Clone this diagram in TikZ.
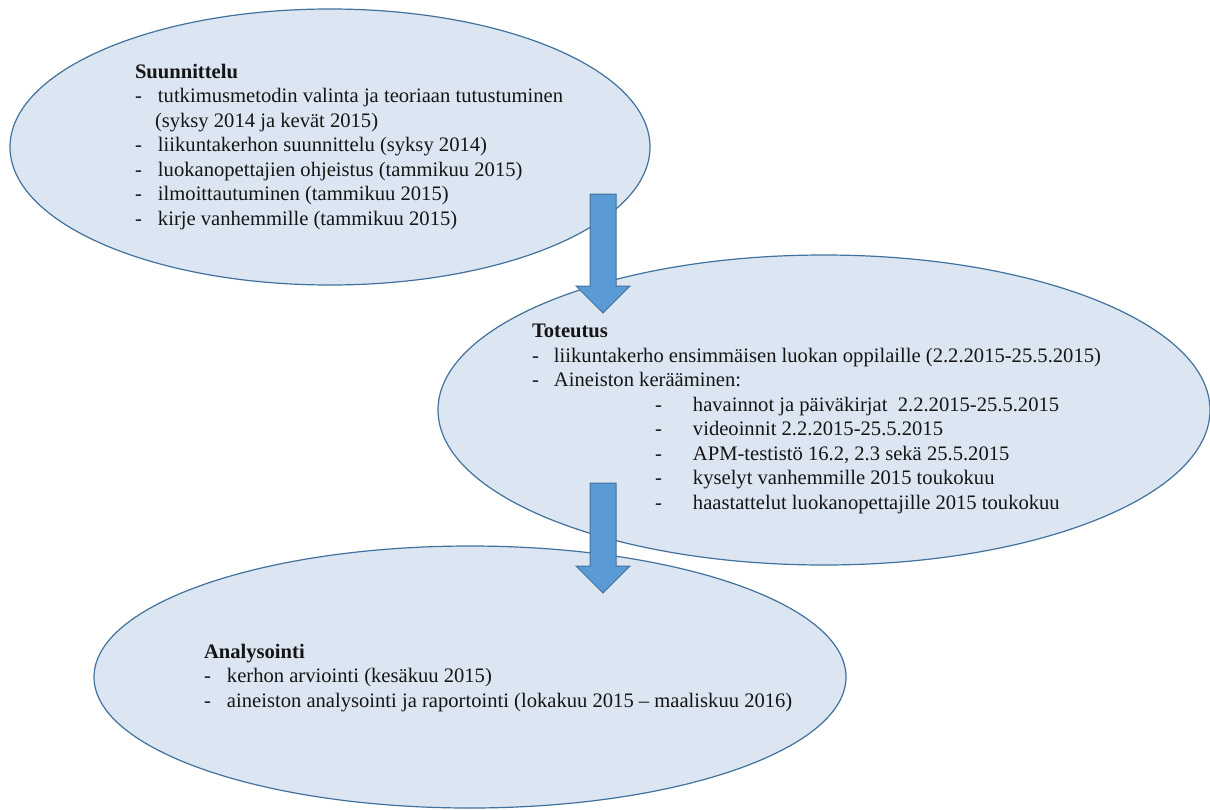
\documentclass[tikz,border=0pt]{standalone}
\usepackage{fontspec}
\setmainfont{Liberation Serif}
\usetikzlibrary{shapes.geometric}
\definecolor{ellfill}{HTML}{DCE6F2}
\definecolor{ellline}{HTML}{41719C}
\definecolor{arrfill}{HTML}{5B9BD5}
\definecolor{txt}{HTML}{151515}
\tikzset{
  phase/.style={ellipse, draw=ellline, fill=ellfill, line width=1.2pt, inner sep=0pt, outer sep=0pt},
  blockarrow/.style={draw=ellline, fill=arrfill, line width=1pt, line join=miter},
  ln/.style={anchor=base west, inner sep=0pt, outer sep=0pt, text=txt, font=\fontsize{20.6}{24.5}\selectfont},
}
\newcommand{\itm}[1]{\makebox[23pt][l]{-}#1}
\newcommand{\subitm}[1]{\makebox[38pt][l]{-}#1}
\begin{document}
\begin{tikzpicture}[x=1pt,y=-1pt]
\useasboundingbox (0,0) rectangle (1210,809);
% ellipses
\node[phase, minimum width=640pt, minimum height=276pt] (plan) at (330,147) {};
\node[phase, minimum width=772pt, minimum height=310pt] (impl) at (824,410) {};
\node[phase, minimum width=752pt, minimum height=262pt] (anal) at (470,677) {};
% block arrows
\coordinate (a1top) at (603,194);
\coordinate (a1tip) at (603,313);
\draw[blockarrow] (590,194) -- (616,194) -- (616,286) -- (630,286) -- (a1tip) -- (576,286) -- (590,286) -- cycle;
\coordinate (a2top) at (603,483);
\coordinate (a2tip) at (603,593);
\draw[blockarrow] (590,483) -- (616,483) -- (616,566) -- (630,566) -- (a2tip) -- (576,566) -- (590,566) -- cycle;
% text: Suunnittelu
\node[ln] (p0) at (135,78) {\textbf{Suunnittelu}};
\node[ln] (p1) at (135,102.5) {\itm{tutkimusmetodin valinta ja teoriaan tutustuminen}};
\node[ln] (p2) at (155,127) {(syksy 2014 ja kevät 2015)};
\node[ln] (p3) at (135,151.5) {\itm{liikuntakerhon suunnittelu (syksy 2014)}};
\node[ln] (p4) at (135,176) {\itm{luokanopettajien ohjeistus (tammikuu 2015)}};
\node[ln] (p5) at (135,200.5) {\itm{ilmoittautuminen (tammikuu 2015)}};
\node[ln] (p6) at (135,225) {\itm{kirje vanhemmille (tammikuu 2015)}};
% text: Toteutus
\node[ln] (t0) at (532,337.5) {\textbf{Toteutus}};
\node[ln] (t1) at (532,362) {\makebox[22pt][l]{-}liikuntakerho ensimmäisen luokan oppilaille (2.2.2015-25.5.2015)};
\node[ln] (t2) at (532,386.5) {\makebox[22pt][l]{-}Aineiston kerääminen:};
\node[ln] (t3) at (655,411) {\subitm{havainnot ja päiväkirjat\ \ 2.2.2015-25.5.2015}};
\node[ln] (t4) at (655,435.5) {\subitm{videoinnit 2.2.2015-25.5.2015}};
\node[ln] (t5) at (655,460) {\subitm{APM-testistö 16.2, 2.3 sekä 25.5.2015}};
\node[ln] (t6) at (655,484.5) {\subitm{kyselyt vanhemmille 2015 toukokuu}};
\node[ln] (t7) at (655,509) {\subitm{haastattelut luokanopettajille 2015 toukokuu}};
% text: Analysointi
\node[ln] (n0) at (204,658) {\textbf{Analysointi}};
\node[ln] (n1) at (204,682.5) {\makebox[23pt][l]{-}kerhon arviointi (kesäkuu 2015)};
\node[ln] (n2) at (204,707) {\makebox[23pt][l]{-}aineiston analysointi ja raportointi (lokakuu 2015 – maaliskuu 2016)};
\end{tikzpicture}
\end{document}
